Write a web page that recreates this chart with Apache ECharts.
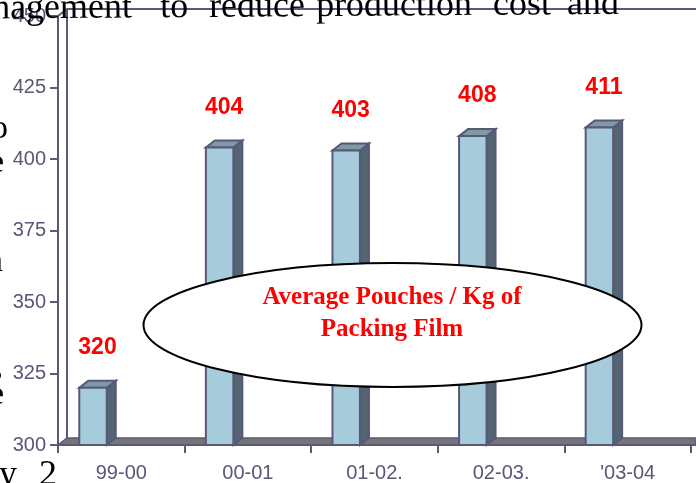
<!DOCTYPE html>
<html>
<head>
<meta charset="utf-8">
<script src="https://cdn.jsdelivr.net/npm/echarts@6/dist/echarts.min.js"></script>
<style>
  html, body { margin: 0; padding: 0; background: #ffffff; }
  #chart { width: 696px; height: 483px; }
</style>
</head>
<body>
<div id="chart"></div>
<script>
// Season labels and average pouches obtained per kg of packing film
const seasons = ['99-00', '00-01', '01-02.', '02-03.', "'03-04"];
const pouchesPerKg = [320, 404, 403, 408, 411];
const yMin = 300, yMax = 450, yStep = 25;
const captionLines = ['Average Pouches / Kg of', 'Packing Film'];

// Surrounding page text that runs behind the chart
const pageWords = ['nagement', 'to', 'reduce', 'production', 'cost', 'and'];
const pageWordX = [-8, 160, 209, 316, 493, 567];

// Look of the pseudo-3D columns
const FRONT = '#a6cbdb', SIDE = '#536570', TOP = '#7e9aa4', EDGE = '#58587a';
const AXIS = '#5a5a78', LABEL = '#575778';
const DX = 9, DY = -7;         // depth offset of the 3D box
const LABEL_LIFT = 40;         // value label distance above column top

const chart = echarts.init(document.getElementById('chart'), null, { renderer: 'canvas' });

function renderColumn(params, api) {
  const i = api.value(0), v = api.value(1);
  const top = api.coord([i, v]);
  const base = api.coord([i, yMin]);
  const bw = api.size([1, 0])[0];
  const x0 = top[0] - 0.332 * bw;
  const w = 0.217 * bw;
  const yT = top[1], yB = base[1];
  return {
    type: 'group',
    children: [
      { type: 'polygon',
        shape: { points: [[x0 + w, yT], [x0 + w + DX, yT + DY], [x0 + w + DX, yB + DY], [x0 + w, yB]] },
        style: { fill: SIDE, stroke: EDGE, lineWidth: 2 } },
      { type: 'polygon',
        shape: { points: [[x0, yT], [x0 + DX, yT + DY], [x0 + w + DX, yT + DY], [x0 + w, yT]] },
        style: { fill: TOP, stroke: EDGE, lineWidth: 2 } },
      { type: 'rect',
        shape: { x: x0, y: yT, width: w, height: yB - yT },
        style: { fill: FRONT, stroke: EDGE, lineWidth: 2 } },
      { type: 'text',
        style: { text: String(v), x: x0 + (w + DX) / 2, y: yT - LABEL_LIFT,
                 align: 'center', verticalAlign: 'middle', fill: '#ff0000',
                 font: 'bold 23px "Liberation Sans", Arial, sans-serif' } }
    ]
  };
}

// Back wall, side wall and floor of the 3D plot box
const L = 58, R = 696, T = 16, B = 445;
const boxGraphics = [
  { type: 'polygon', z: 0, silent: true,
    shape: { points: [[L, B], [L + DX, B + DY], [R, B + DY], [R, B]] },
    style: { fill: '#757575', stroke: EDGE, lineWidth: 1.5 } },
  { type: 'polyline', z: 0, silent: true,
    shape: { points: [[L, T], [L + DX, T + DY], [R, T + DY]] },
    style: { fill: null, stroke: AXIS, lineWidth: 2 } },
  { type: 'line', z: 0, silent: true,
    shape: { x1: L + DX, y1: T + DY, x2: L + DX, y2: B + DY },
    style: { stroke: AXIS, lineWidth: 2 } },
  { type: 'line', z: 0, silent: true,
    shape: { x1: L, y1: B, x2: R, y2: B },
    style: { stroke: AXIS, lineWidth: 2 } }
];

// Oval caption placed over the columns
const captionGraphics = [
  { type: 'ellipse', z: 100, silent: true,
    shape: { cx: 392.5, cy: 325, rx: 249, ry: 62 },
    style: { fill: '#ffffff', stroke: '#000000', lineWidth: 2 } },
  { type: 'text', z: 101, silent: true,
    style: { text: captionLines[0], x: 392, y: 298, align: 'center', verticalAlign: 'middle',
             fill: '#ff0000', font: 'bold 25px "Liberation Serif", "Times New Roman", serif' } },
  { type: 'text', z: 101, silent: true,
    style: { text: captionLines[1], x: 392, y: 330, align: 'center', verticalAlign: 'middle',
             fill: '#ff0000', font: 'bold 25px "Liberation Serif", "Times New Roman", serif' } }
];

// Page text around the chart
const serif = '36px "Liberation Serif", "Times New Roman", serif';
const sideFont = '34px "Liberation Serif", serif';
function edgeGlyph(ch, x, y) {
  return { type: 'text', z: 120, silent: true,
           style: { text: ch, x: x, y: y, verticalAlign: 'middle', fill: '#000', font: sideFont } };
}
const pageGraphics = [
  { type: 'group', z: 120, silent: true, x: 0, y: 0, rotation: 0.0075,
    children: pageWords.map((wd, k) => ({
      type: 'text', z: 120,
      style: { text: wd, x: pageWordX[k], y: 9, align: 'left', verticalAlign: 'middle',
               fill: '#000000', font: serif }
    })) },
  edgeGlyph('o', -9, 129),
  edgeGlyph('e', -11, 163),
  edgeGlyph('n', -14, 262),
  edgeGlyph('s', -11, 371),
  edgeGlyph('e', -11, 395),
  { type: 'text', z: 120, silent: true,
    style: { text: 'y', x: -1, y: 476, verticalAlign: 'middle', fill: '#000', font: serif } },
  { type: 'text', z: 120, silent: true,
    style: { text: '2', x: 39, y: 476, verticalAlign: 'middle', fill: '#000', font: serif } }
];

chart.setOption({
  animation: false,
  backgroundColor: '#ffffff',
  grid: { left: L, right: 5, top: T, bottom: 483 - B, containLabel: false },
  xAxis: {
    type: 'category',
    data: seasons,
    boundaryGap: true,
    axisLine: { show: true, lineStyle: { color: AXIS, width: 2 } },
    axisTick: { show: true, length: 8, inside: false, lineStyle: { color: AXIS, width: 2 } },
    axisLabel: { color: LABEL, fontSize: 20, fontFamily: '"Liberation Sans", Arial, sans-serif', margin: 18 },
    splitLine: { show: false }
  },
  yAxis: {
    type: 'value',
    min: yMin, max: yMax, interval: yStep,
    axisLine: { show: true, lineStyle: { color: AXIS, width: 2 } },
    axisTick: { show: true, length: 8, lineStyle: { color: AXIS, width: 2 } },
    axisLabel: { color: LABEL, fontSize: 20, fontFamily: '"Liberation Sans", Arial, sans-serif', margin: 12 },
    splitLine: { show: false }
  },
  series: [{
    type: 'custom',
    renderItem: renderColumn,
    data: pouchesPerKg.map((v, i) => [i, v]),
    encode: { x: 0, y: 1 },
    clip: false,
    z: 5
  }],
  graphic: { elements: [...boxGraphics, ...captionGraphics, ...pageGraphics] }
});
</script>
</body>
</html>
